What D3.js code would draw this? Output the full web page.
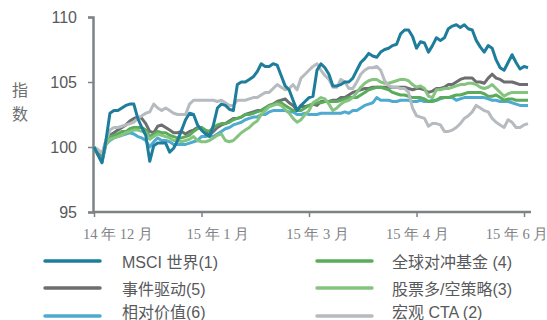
<!DOCTYPE html>
<html>
<head>
<meta charset="utf-8">
<script src="https://cdn.jsdelivr.net/npm/d3@7"></script>
<style>
  html, body { margin: 0; padding: 0; background: #fff; }
  svg { display: block; }
</style>
</head>
<body>
<svg id="chart" width="547" height="320"></svg>
<script>
// Index levels, rebased to 100 at the start (Dec 2014 – Jun 2015)
const msci = [
  100.0, 99.4, 98.8, 100.5, 102.6, 102.8, 102.8, 103.0, 103.2, 103.3,
  103.3, 102.2, 101.5, 100.9, 98.9, 100.1, 100.3, 100.3, 100.3, 99.6,
  99.9, 100.5, 101.3, 102.1, 102.6, 102.5, 101.7, 101.3, 101.0, 100.8,
  101.7, 103.0, 103.3, 103.2, 102.9, 102.8, 104.8, 105.0, 105.0, 105.2,
  105.4, 105.8, 106.4, 106.2, 106.2, 106.4, 106.3, 105.5, 104.7, 104.4,
  103.6, 102.8, 103.2, 103.5, 103.8, 103.9, 105.9, 106.4, 106.1, 105.6,
  104.7, 104.7, 104.8, 105.0, 105.0, 105.3, 105.9, 106.5, 106.8, 107.2,
  107.0, 106.9, 107.3, 107.5, 107.6, 107.8, 107.9, 108.7, 109.0, 109.0,
  108.5, 107.6, 108.1, 108.0, 107.3, 107.8, 108.4, 108.2, 108.4, 109.1,
  109.3, 109.4, 109.2, 109.4, 109.1, 109.0, 108.2, 107.7, 107.3, 107.8,
  107.6, 106.7, 106.1, 105.9, 106.5, 107.1, 106.5, 106.0, 106.2, 106.1
];
const macroCta = [
  100.0, 99.8, 99.5, 100.5, 101.3, 101.5, 101.5, 101.6, 101.7, 101.8,
  101.9, 102.2, 102.4, 102.6, 102.7, 103.3, 103.0, 102.8, 103.0, 102.8,
  102.6, 102.5, 102.5, 102.5, 103.3, 103.6, 103.6, 103.6, 103.6, 103.6,
  103.6, 103.5, 103.6, 103.4, 103.2, 103.2, 103.6, 103.6, 103.6, 103.7,
  103.8, 103.8, 104.0, 104.2, 104.2, 104.5, 104.8, 104.6, 104.4, 104.5,
  104.8, 104.4, 105.3, 105.6, 105.9, 106.2, 106.4, 105.9, 105.5, 105.2,
  104.6, 104.6, 105.2, 105.0, 104.5, 104.5, 105.0, 105.6, 105.9, 106.1,
  106.1, 106.2, 105.9, 105.1, 104.7, 104.6, 104.6, 104.5, 104.5, 104.2,
  103.0, 102.4, 102.3, 102.2, 101.6, 101.8, 101.8, 101.7, 101.2, 101.2,
  101.3, 101.5, 101.8, 102.2, 102.4, 102.7, 103.2, 103.0, 102.8, 102.7,
  102.2, 101.9, 101.7, 101.5, 102.1, 101.9, 101.5, 101.5, 101.7, 101.8
];
const equityLongShort = [
  100.0, 99.4, 99.0, 100.2, 100.6, 100.7, 100.8, 100.9, 101.1, 101.2,
  101.3, 101.3, 101.2, 101.1, 100.6, 100.8, 101.0, 100.9, 100.8, 100.7,
  100.5, 100.5, 100.4, 100.5, 100.6, 100.8, 100.5, 100.4, 100.4, 100.5,
  100.7, 100.9, 101.0, 100.5, 100.4, 100.5, 100.8, 101.1, 101.3, 101.5,
  101.8, 102.0, 102.5, 102.8, 103.1, 103.2, 103.3, 103.2, 102.9, 102.6,
  102.2, 101.9, 102.1, 102.5, 102.8, 103.4, 103.6, 103.8, 103.7, 103.3,
  102.8, 103.0, 103.3, 103.5, 103.6, 103.8, 104.2, 104.6, 104.9, 105.1,
  105.2, 105.2, 105.0, 104.9, 104.9, 105.0, 105.1, 105.2, 105.2, 105.1,
  104.8, 104.6, 104.7, 104.5, 103.9, 103.8, 104.4, 104.4, 104.5, 104.5,
  104.6, 104.7, 104.8, 104.8, 104.9, 104.9, 104.8, 104.6, 104.5, 104.6,
  104.8, 104.5, 104.2, 103.9, 104.1, 104.2, 104.2, 104.2, 104.2, 104.2
];
const globalHedge = [
  100.0, 99.4, 99.0, 100.3, 100.8, 100.9, 101.0, 101.2, 101.2, 101.4,
  101.5, 101.5, 101.5, 101.3, 100.8, 101.0, 101.2, 101.1, 101.1, 100.9,
  100.8, 100.7, 100.7, 100.8, 100.9, 101.2, 101.4, 101.5, 101.3, 101.2,
  101.5, 101.7, 101.8, 101.8, 101.9, 102.1, 102.2, 102.3, 102.5, 102.5,
  102.6, 102.7, 102.8, 103.0, 103.2, 103.3, 103.4, 103.4, 103.2, 103.0,
  102.8, 102.8, 102.8, 103.0, 103.2, 103.3, 103.4, 103.4, 103.5, 103.5,
  103.5, 103.5, 103.6, 103.7, 103.8, 103.8, 103.8, 104.0, 104.2, 104.4,
  104.5, 104.6, 104.6, 104.5, 104.4, 104.2, 104.1, 104.0, 104.0, 103.9,
  103.8, 103.8, 103.8, 103.7, 103.5, 103.5, 103.6, 103.8, 103.8, 103.8,
  103.9, 104.0, 104.0, 104.1, 104.2, 104.2, 104.2, 104.2, 104.1, 103.9,
  103.9, 104.0, 103.8, 103.6, 103.7, 103.7, 103.6, 103.6, 103.6, 103.6
];
const eventDriven = [
  100.0, 99.6, 99.3, 100.5, 100.9, 101.1, 101.3, 101.5, 101.7, 102.0,
  102.2, 102.3, 102.2, 101.8, 101.2, 101.1, 101.6, 101.7, 101.5, 101.3,
  101.1, 101.1, 101.2, 101.0, 101.2, 101.3, 101.5, 101.5, 101.2, 100.9,
  101.2, 101.5, 101.7, 101.8, 102.0, 102.2, 102.2, 102.3, 102.5, 102.6,
  102.7, 102.8, 102.8, 103.0, 103.2, 103.3, 103.5, 103.6, 103.7, 103.4,
  103.2, 102.8, 103.2, 103.1, 103.2, 103.3, 103.2, 103.5, 103.5, 103.5,
  103.6, 103.6, 103.8, 103.8, 104.0, 104.2, 104.3, 104.4, 104.5, 104.5,
  104.6, 104.6, 104.6, 104.6, 104.6, 104.6, 104.6, 104.6, 104.6, 104.5,
  104.4, 104.5, 104.5, 104.4, 104.2, 104.3, 104.5, 104.5, 104.6, 104.8,
  104.8, 105.0, 105.2, 105.3, 105.3, 105.3, 105.0, 105.0, 104.9, 105.3,
  105.6, 105.3, 105.2, 105.0, 105.0, 105.0, 104.9, 104.8, 104.8, 104.8
];
const relativeValue = [
  100.0, 99.4, 98.8, 100.2, 100.5, 100.7, 100.8, 100.9, 101.0, 101.1,
  101.0, 100.8, 100.7, 100.5, 100.0, 100.4, 100.7, 100.5, 100.5, 100.4,
  100.2, 100.2, 100.2, 100.2, 100.3, 100.4, 100.5, 100.8, 100.8, 100.9,
  100.8, 101.0, 101.2, 101.4, 101.5, 101.7, 101.8, 101.9, 102.1, 102.2,
  102.3, 102.3, 102.5, 102.5, 102.7, 102.8, 102.8, 102.8, 102.8, 102.7,
  102.7, 102.5, 102.5, 102.6, 102.5, 102.5, 102.5, 102.6, 102.6, 102.6,
  102.6, 102.6, 102.6, 102.7, 102.6, 102.8, 102.8, 103.0, 103.2, 103.3,
  103.4, 103.8, 103.6, 103.6, 103.6, 103.5, 103.5, 103.6, 103.6, 103.6,
  103.5, 103.5, 103.6, 103.5, 103.5, 103.6, 103.6, 103.7, 103.8, 103.8,
  103.8, 103.6, 103.7, 103.8, 103.8, 103.8, 103.8, 103.8, 103.8, 103.7,
  103.6, 103.6, 103.5, 103.5, 103.5, 103.4, 103.3, 103.2, 103.2, 103.2
];

const seriesNames = ["MSCI 世界(1)", "宏观 CTA (2)", "股票多/空策略(3)", "全球对冲基金 (4)", "事件驱动(5)", "相对价值(6)"];
const seriesColors = ["#1d7d9b", "#b6bbbf", "#85c47f", "#5aac5b", "#6d6e71", "#4eaad0"];
const seriesValues = [msci, macroCta, equityLongShort, globalHedge, eventDriven, relativeValue];

// Category axis: tick positions (observation index) and month labels
const tickIndices = [0, 27, 54, 81, 108];
const monthLabels = ["14 年 12 月", "15 年 1 月", "15 年 3 月", "15 年 4 月", "15 年 6 月"];
const yTicks = [95, 100, 105, 110];

// Legend layout: two columns, three rows
const legendOrder = [
  { name: "MSCI 世界(1)", col: 0, row: 0 },
  { name: "事件驱动(5)", col: 0, row: 1 },
  { name: "相对价值(6)", col: 0, row: 2 },
  { name: "全球对冲基金 (4)", col: 1, row: 0 },
  { name: "股票多/空策略(3)", col: 1, row: 1 },
  { name: "宏观 CTA (2)", col: 1, row: 2 }
];

const svg = d3.select("#chart");
const axisColor = "#7f8285";
const n = msci.length;

const x = d3.scaleLinear().domain([0, n - 1]).range([94, 528]);
const y = d3.scaleLinear().domain([95, 110]).range([212, 17]);
const labelPos = d3.scalePoint().domain(monthLabels).range([118, 517]);

// Y axis
const yAxis = svg.append("g")
  .attr("transform", "translate(93,0)")
  .call(d3.axisLeft(y).tickValues(yTicks).tickSize(5).tickPadding(11));
yAxis.select(".domain").attr("stroke", axisColor).attr("stroke-width", 2.5);
yAxis.selectAll(".tick line").attr("stroke", axisColor).attr("stroke-width", 1.5);
yAxis.selectAll(".tick text")
  .attr("fill", "#58595b")
  .style("font-family", "'Liberation Sans', Arial, sans-serif")
  .style("font-size", "16px");

// Y title, stacked characters
svg.append("g").selectAll("text")
  .data(["指", "数"])
  .join("text")
  .attr("x", 20)
  .attr("y", (d, i) => 96 + i * 24)
  .attr("text-anchor", "middle")
  .attr("fill", "#6d6e71")
  .style("font-family", "'Noto Sans CJK SC', sans-serif")
  .style("font-size", "16px")
  .text(d => d);

// X axis with tick marks; month labels placed separately
const xAxis = svg.append("g")
  .attr("transform", "translate(0,212)")
  .call(d3.axisBottom(x).tickValues(tickIndices).tickSize(5).tickFormat(""));
xAxis.select(".domain")
  .attr("d", "M93,0H531")
  .attr("stroke", axisColor).attr("stroke-width", 2.5);
xAxis.selectAll(".tick line").attr("stroke", axisColor).attr("stroke-width", 1.5);

svg.append("g").selectAll("text")
  .data(monthLabels)
  .join("text")
  .attr("x", d => labelPos(d))
  .attr("y", 239)
  .attr("text-anchor", "middle")
  .attr("fill", "#808285")
  .style("font-family", "'Liberation Serif', 'Times New Roman', serif")
  .style("font-size", "14.5px")
  .text(d => d);

// Series lines
const line = d3.line()
  .x((d, i) => x(i))
  .y(d => y(d));

svg.append("g").selectAll("path")
  .data(seriesValues.map((v, i) => ({ values: v, color: seriesColors[i] })).reverse())
  .join("path")
  .attr("fill", "none")
  .attr("stroke", d => d.color)
  .attr("stroke-width", 3)
  .attr("stroke-linejoin", "round")
  .attr("d", d => line(d.values));

// Legend
const colorOf = name => seriesColors[seriesNames.indexOf(name)];
const legend = svg.append("g").selectAll("g")
  .data(legendOrder)
  .join("g")
  .attr("transform", d => `translate(${d.col === 0 ? 45 : 317},${[261, 288, 316][d.row]})`);

legend.append("line")
  .attr("x1", 0).attr("x2", 55)
  .attr("stroke", d => colorOf(d.name))
  .attr("stroke-width", 3.5)
  .attr("stroke-linecap", "round");

legend.append("text")
  .attr("x", d => d.col === 0 ? 77 : 75)
  .attr("y", (d, i) => (d.row === 2 ? -4 : 1) + 5.5)
  .attr("fill", "#58595b")
  .style("font-family", "'Liberation Sans', Arial, 'Noto Sans CJK SC', sans-serif")
  .style("font-size", "16px")
  .text(d => d.name);
</script>
</body>
</html>
